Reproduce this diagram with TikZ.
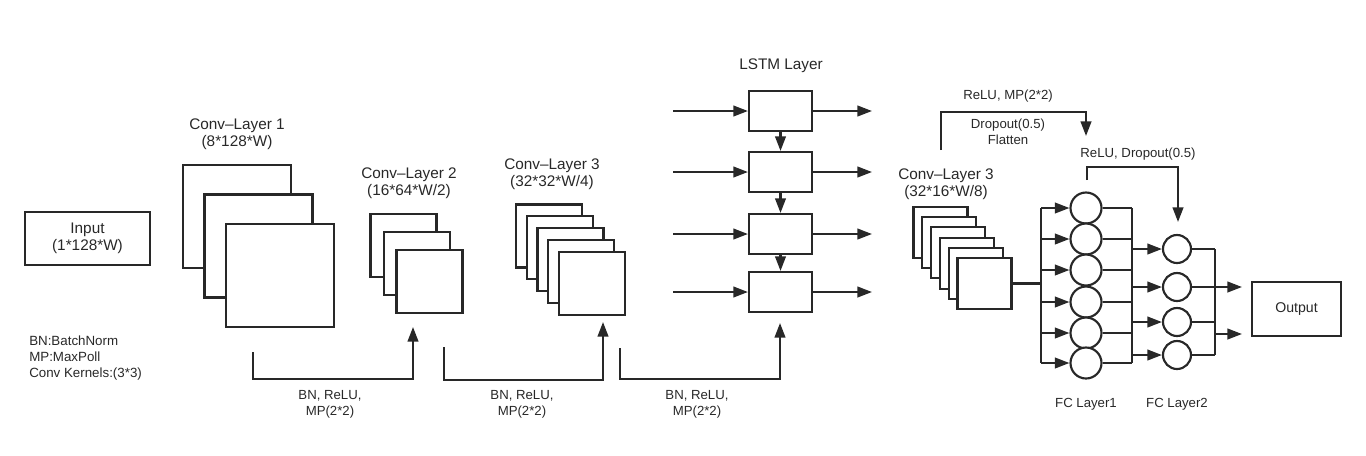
\documentclass[tikz,border=0pt]{standalone}
\usepackage{fontspec}
\setmainfont{Liberation Sans}
\usetikzlibrary{arrows.meta,calc}
\definecolor{ink}{RGB}{40,40,40}
\begin{document}
\begin{tikzpicture}[x=0.75pt,y=-0.75pt,
  every node/.style={text=ink},
  ln/.style={draw=ink,line width=1.6pt},
  arr/.style={draw=ink,line width=1.6pt,-{Triangle[length=11pt,width=8pt]}},
  box/.style={draw=ink,line width=1.6pt,fill=white,inner sep=0pt},
  big/.style={font=\fontsize{11.5}{12.8}\selectfont,align=center,inner sep=0pt},
  small/.style={font=\fontsize{9.9}{11.6}\selectfont,align=center,inner sep=0pt},
  neuron/.style={circle,draw=ink,line width=1.6pt,fill=white,inner sep=0pt}]
\useasboundingbox (0,0) rectangle (1366,455);

% Input
\node[box,big,minimum width=93.75pt,minimum height=39.75pt] (input) at (87.5,238.5) {Input\\(1*128*W)};

% Legend
\node[small,align=left,anchor=west,font=\fontsize{10}{12}\selectfont] (legend) at (29,358) {BN:BatchNorm\\MP:MaxPoll\\Conv Kernels:(3*3)};

% Conv-Layer 1
\node[big] (c1lbl) at (237,134.5) {Conv–Layer 1\\(8*128*W)};
\node[box,minimum width=81pt,minimum height=77.25pt] (c1a) at (237,216.5) {};
\node[box,minimum width=81pt,minimum height=77.25pt] (c1b) at (258.5,246) {};
\node[box,minimum width=81pt,minimum height=77.25pt] (c1c) at (280,275.5) {};

% Conv-Layer 2
\node[big] (c2lbl) at (409,183.5) {Conv–Layer 2\\(16*64*W/2)};
\node[box,minimum width=49.5pt,minimum height=47.25pt] (c2a) at (403.5,245.5) {};
\node[box,minimum width=49.5pt,minimum height=47.25pt] (c2b) at (417,263.5) {};
\node[box,minimum width=49.5pt,minimum height=47.25pt] (c2c) at (429.5,281.5) {};

% Conv-Layer 3
\node[big] (c3lbl) at (552,174.5) {Conv–Layer 3\\(32*32*W/4)};
\foreach \i in {0,...,4}
  \node[box,minimum width=49.5pt,minimum height=47.25pt] (c3\i) at ({549+10.75*\i},{236+11.875*\i}) {};

% LSTM
\node[big] (lstmlbl) at (781,66) {LSTM Layer};
\foreach \y [count=\k] in {111,172,234,292}{
  \node[box,minimum width=47.25pt,minimum height=30pt] (l\k) at (780.5,\y) {};
  \coordinate (lin\k) at (673,\y);
  \coordinate (lout\k) at (872,\y);
  \draw[arr] (lin\k) -- (l\k.west);
  \draw[arr] (l\k.east) -- (lout\k);
}
\draw[arr] (l1.south) -- (l2.north);
\draw[arr] (l2.south) -- (l3.north);
\draw[arr] (l3.south) -- (l4.north);

% bottom connectors
\coordinate (a1s) at (253,352); \coordinate (a1m) at (413,379); \coordinate (a1e) at (413,327);
\draw[arr] (a1s) |- (a1m) -- (a1e);
\node[small] (a1lbl) at (330,404.5) {BN, ReLU,\\MP(2*2)};
\coordinate (a2s) at (444,347); \coordinate (a2m) at (603,380); \coordinate (a2e) at (603,322);
\draw[arr] (a2s) |- (a2m) -- (a2e);
\node[small] (a2lbl) at (522,404.5) {BN, ReLU,\\MP(2*2)};
\coordinate (a3s) at (620,348); \coordinate (a3m) at (780,379); \coordinate (a3e) at (780,323);
\draw[arr] (a3s) |- (a3m) -- (a3e);
\node[small] (a3lbl) at (697,404.5) {BN, ReLU,\\MP(2*2)};

% Conv-Layer 3 (second)
\node[big] (c4lbl) at (946,184) {Conv–Layer 3\\(32*16*W/8)};
\foreach \i in {0,...,5}
  \node[box,minimum width=40.5pt,minimum height=38.25pt] (c4\i) at ({940.5+8.8*\i},{232.5+10.2*\i}) {};

% top connectors
\coordinate (t1s) at (941,150); \coordinate (t1m) at (1086,112); \coordinate (t1e) at (1086,136);
\draw[arr] (t1s) |- (t1m) -- (t1e);
\node[small] (t1lbl) at (1008,96) {ReLU, MP(2*2)};
\node[small] (t1lbl2) at (1008,132) {Dropout(0.5)\\Flatten};
\coordinate (t2s) at (1087,180); \coordinate (t2m) at (1178,167); \coordinate (t2e) at (1178,222);
\draw[arr] (t2s) |- (t2m) -- (t2e);
\node[small] (t2lbl) at (1138,154) {ReLU, Dropout(0.5)};

% FC layers
\foreach \y [count=\k] in {208,239,270,302,333,363}
  \node[neuron,minimum size=23.25pt] (f\k) at (1086,\y) {};
\foreach \y [count=\k] in {249,287,322,355}
  \node[neuron,minimum size=21pt] (g\k) at (1177,\y) {};

\coordinate (bl) at (1041,284);
\coordinate (br) at (1132,284);
\coordinate (br2) at (1215,300);
\draw[ln,line width=2.3pt] (c45.east) -- (c45.east -| bl);
\draw[ln] (bl |- f1) -- (bl |- f6);
\foreach \k in {1,...,6}{
  \draw[arr] (bl |- f\k) -- (f\k.west);
  \draw[ln] (f\k.east) -- (br |- f\k);
}
\draw[ln] (br |- f1) -- (br |- f6);
\foreach \k in {1,...,4}{
  \draw[arr] (br |- g\k) -- (g\k.west);
  \draw[ln] (g\k.east) -- (br2 |- g\k);
}
\draw[ln] (br2 |- g1) -- (br2 |- g4);

\node[box,font=\fontsize{10.6}{12}\selectfont,minimum width=66.75pt,minimum height=40.5pt] (out) at (1296.5,309) {Output};
\coordinate (o1) at (1242,287);
\coordinate (o2) at (1242,334);
\draw[arr] (br2 |- o1) -- (o1);
\draw[arr] (br2 |- o2) -- (o2);

\node[small] (fc1lbl) at (1086,404) {FC Layer1};
\node[small] (fc2lbl) at (1177,404) {FC Layer2};
\end{tikzpicture}
\end{document}
